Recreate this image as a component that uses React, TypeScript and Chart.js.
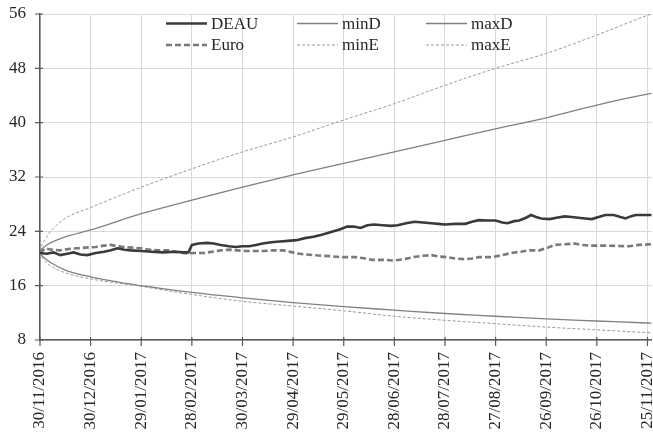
import React, { useEffect, useRef } from "react";
import { Chart, registerables } from "chart.js";

Chart.register(...registerables);

// Tick labels (every 30 days from 30/11/2016)
const tickDays = [0, 30, 60, 90, 120, 150, 180, 210, 240, 270, 300, 330, 360];
const tickLabels = [
  "30/11/2016", "30/12/2016", "29/01/2017", "28/02/2017", "30/03/2017", "29/04/2017",
  "29/05/2017", "28/06/2017", "28/07/2017", "27/08/2017", "26/09/2017", "26/10/2017", "25/11/2017",
];
const yTicks = [8, 16, 24, 32, 40, 48, 56];

// Envelope curves (day offset -> value)
const envDays = [0, 1, 3, 7, 15, 30, 60, 90, 120, 150, 180, 210, 240, 270, 300, 330, 360, 362.5];
const minDValues = [21, 20.5, 20.0, 19.3, 18.3, 17.3, 16.0, 15.0, 14.2, 13.5, 12.9, 12.4, 11.9, 11.5, 11.1, 10.8, 10.5, 10.48];
const maxDValues = [21, 21.4, 21.8, 22.4, 23.2, 24.2, 26.6, 28.6, 30.5, 32.3, 34.0, 35.7, 37.4, 39.1, 40.7, 42.6, 44.2, 44.3];
const minEValues = [21, 20.3, 19.6, 18.8, 17.9, 17.0, 15.9, 14.7, 13.7, 13.0, 12.3, 11.5, 10.9, 10.4, 9.9, 9.5, 9.1, 9.08];
const maxEValues = [21, 21.9, 22.8, 24.2, 25.9, 27.5, 30.5, 33.2, 35.7, 37.9, 40.4, 42.8, 45.5, 48.0, 50.2, 52.9, 55.8, 56.0];

// DEAU series
const deauDays = [
  0, 4, 8, 12, 16, 20, 24, 28, 33, 38, 42, 46, 50, 54, 60, 66, 73, 80, 85, 88, 90, 94, 99, 103,
  107, 112, 116, 120, 124, 128, 132, 137, 142, 147, 152, 157, 162, 167, 171, 175, 178, 182, 186,
  190, 194, 198, 203, 208, 212, 217, 222, 227, 232, 236, 240, 246, 252, 256, 260, 265, 270, 274,
  277, 281, 284, 288, 291, 294, 297, 302, 306, 311, 315, 319, 323, 327, 331, 335, 340, 344, 347,
  350, 353, 358, 362.5,
];
const deauValues = [
  20.8, 20.7, 20.9, 20.5, 20.7, 20.9, 20.6, 20.5, 20.8, 21.0, 21.2, 21.5, 21.3, 21.2, 21.1, 21.0,
  20.9, 21.0, 20.9, 20.9, 22.0, 22.2, 22.3, 22.2, 22.0, 21.8, 21.7, 21.8, 21.8, 22.0, 22.2, 22.4,
  22.5, 22.6, 22.7, 23.0, 23.2, 23.5, 23.8, 24.1, 24.3, 24.7, 24.7, 24.5, 24.9, 25.0, 24.9, 24.8,
  24.9, 25.2, 25.4, 25.3, 25.2, 25.1, 25.0, 25.1, 25.1, 25.4, 25.65, 25.6, 25.6, 25.3, 25.2, 25.5,
  25.6, 26.0, 26.4, 26.1, 25.9, 25.8, 26.0, 26.2, 26.1, 26.0, 25.9, 25.8, 26.1, 26.4, 26.4, 26.1,
  25.9, 26.2, 26.4, 26.4, 26.4,
];

// Euro series
const euroDays = [
  0, 3, 7, 12, 17, 22, 27, 33, 38, 42, 46, 50, 55, 60, 65, 70, 76, 82, 87, 92, 97, 102, 107, 112,
  117, 122, 127, 132, 138, 144, 148, 152, 157, 162, 167, 172, 178, 187, 193, 197, 204, 210, 216,
  221, 227, 232, 236, 241, 246, 252, 256, 260, 268, 274, 280, 285, 290, 296, 301, 305, 311, 317,
  321, 325, 330, 335, 342, 349, 355, 362.5,
];
const euroValues = [
  20.8, 21.5, 21.3, 21.2, 21.4, 21.5, 21.6, 21.7, 21.9, 22.0, 21.8, 21.7, 21.6, 21.5, 21.3, 21.2,
  21.2, 20.9, 20.75, 20.8, 20.8, 21.0, 21.2, 21.3, 21.2, 21.1, 21.1, 21.1, 21.2, 21.2, 21.0, 20.75,
  20.6, 20.5, 20.4, 20.35, 20.2, 20.2, 20.0, 19.8, 19.8, 19.7, 19.9, 20.2, 20.4, 20.5, 20.3, 20.2,
  20.0, 19.9, 20.0, 20.2, 20.2, 20.5, 20.85, 21.0, 21.2, 21.2, 21.6, 22.0, 22.1, 22.2, 22.0, 21.9,
  21.9, 21.9, 21.85, 21.8, 22.0, 22.1,
];

const zip = (xs: number[], ys: number[]) => xs.map((x, i) => ({ x, y: ys[i] }));

const FONT = "'Liberation Serif', Tinos, 'Times New Roman', Times, serif";
const TEXT = "#262626";
const AXIS = "#595959";

const legendPlugin = {
  id: "customLegend",
  afterDraw(chart: any) {
    const { ctx, chartArea } = chart;
    const cols = [126, 257, 386];
    const rows = [9.5, 31];
    const layout = [
      [0, 2, 3],
      [1, 4, 5],
    ];
    ctx.save();
    ctx.font = `17px ${FONT}`;
    ctx.textBaseline = "middle";
    ctx.textAlign = "left";
    layout.forEach((row, r) => {
      row.forEach((di, c) => {
        const ds = chart.data.datasets[di];
        const x = chartArea.left + cols[c];
        const y = chartArea.top + rows[r];
        ctx.beginPath();
        ctx.strokeStyle = ds.borderColor;
        ctx.lineWidth = ds.borderWidth;
        ctx.setLineDash(ds.borderDash || []);
        ctx.moveTo(x, y);
        ctx.lineTo(x + 41, y);
        ctx.stroke();
        ctx.setLineDash([]);
        ctx.fillStyle = TEXT;
        ctx.fillText(ds.label, x + 45, y + 1);
      });
    });
    ctx.restore();
  },
};

const tickPlugin = {
  id: "crossTicks",
  afterDraw(chart: any) {
    const { ctx, chartArea, scales } = chart;
    ctx.save();
    ctx.strokeStyle = AXIS;
    ctx.lineWidth = 1.2;
    ctx.beginPath();
    scales.y.ticks.forEach((t: any) => {
      const py = scales.y.getPixelForValue(t.value);
      ctx.moveTo(chartArea.left - 5, py);
      ctx.lineTo(chartArea.left + 3, py);
    });
    scales.x.ticks.forEach((t: any) => {
      const px = scales.x.getPixelForValue(t.value);
      ctx.moveTo(px, chartArea.bottom - 3);
      ctx.lineTo(px, chartArea.bottom + 6);
    });
    ctx.stroke();
    ctx.restore();
  },
};

export default function App() {
  const ref = useRef<HTMLCanvasElement | null>(null);

  useEffect(() => {
    if (!ref.current) return;
    const chart = new Chart(ref.current, {
      type: "line",
      data: {
        datasets: [
          {
            label: "DEAU",
            data: zip(deauDays, deauValues),
            borderColor: "#3a3a3a",
            borderWidth: 2.6,
            pointRadius: 0,
            tension: 0,
          },
          {
            label: "Euro",
            data: zip(euroDays, euroValues),
            borderColor: "#7a7a7a",
            borderWidth: 2.6,
            borderDash: [6, 3],
            pointRadius: 0,
            tension: 0,
          },
          {
            label: "minD",
            data: zip(envDays, minDValues),
            borderColor: "#808080",
            borderWidth: 1.3,
            pointRadius: 0,
            cubicInterpolationMode: "monotone",
          },
          {
            label: "maxD",
            data: zip(envDays, maxDValues),
            borderColor: "#808080",
            borderWidth: 1.3,
            pointRadius: 0,
            cubicInterpolationMode: "monotone",
          },
          {
            label: "minE",
            data: zip(envDays, minEValues),
            borderColor: "#999999",
            borderWidth: 1,
            borderDash: [3, 2],
            pointRadius: 0,
            cubicInterpolationMode: "monotone",
          },
          {
            label: "maxE",
            data: zip(envDays, maxEValues),
            borderColor: "#999999",
            borderWidth: 1,
            borderDash: [3, 2],
            pointRadius: 0,
            cubicInterpolationMode: "monotone",
          },
        ] as any,
      },
      options: {
        animation: false,
        responsive: true,
        maintainAspectRatio: false,
        layout: { padding: { top: 14, right: 0, left: 0, bottom: 0 } },
        plugins: { legend: { display: false }, tooltip: { enabled: false } },
        scales: {
          x: {
            type: "linear",
            min: 0,
            max: 362.5,
            afterBuildTicks: (scale: any) => {
              scale.ticks = tickDays.map((v) => ({ value: v }));
            },
            afterFit: (scale: any) => {
              scale.height = 98;
              scale.paddingLeft = 0;
              scale.paddingRight = 0;
            },
            grid: { color: "#d9d9d9", lineWidth: 1, drawTicks: false },
            border: { display: true, color: AXIS, width: 1.5 },
            ticks: {
              autoSkip: false,
              minRotation: 90,
              maxRotation: 90,
              padding: 12,
              color: TEXT,
              font: { family: FONT, size: 17 },
              callback: (value: any) => {
                const i = tickDays.indexOf(Number(value));
                return i >= 0 ? tickLabels[i] : "";
              },
            },
          },
          y: {
            type: "linear",
            min: 8,
            max: 56,
            afterBuildTicks: (scale: any) => {
              scale.ticks = yTicks.map((v) => ({ value: v }));
            },
            afterFit: (scale: any) => {
              scale.width = 40;
              scale.paddingTop = 0;
              scale.paddingBottom = 0;
            },
            grid: { color: "#d9d9d9", lineWidth: 1, drawTicks: false },
            border: { display: true, color: AXIS, width: 1.5 },
            ticks: {
              padding: 14,
              color: TEXT,
              font: { family: FONT, size: 17 },
            },
          },
        },
      } as any,
      plugins: [legendPlugin, tickPlugin],
    });
    const fonts: any = (document as any).fonts;
    if (fonts && fonts.load) {
      fonts
        .load("17px 'Liberation Serif'")
        .then(() => {
          try {
            chart.update();
          } catch (e) {
            /* chart destroyed */
          }
        })
        .catch(() => {});
    }
    return () => chart.destroy();
  }, []);

  return (
    <div style={{ position: "absolute", left: 0, top: 0, width: 653, height: 438, background: "#fff" }}>
      <canvas ref={ref} />
    </div>
  );
}
